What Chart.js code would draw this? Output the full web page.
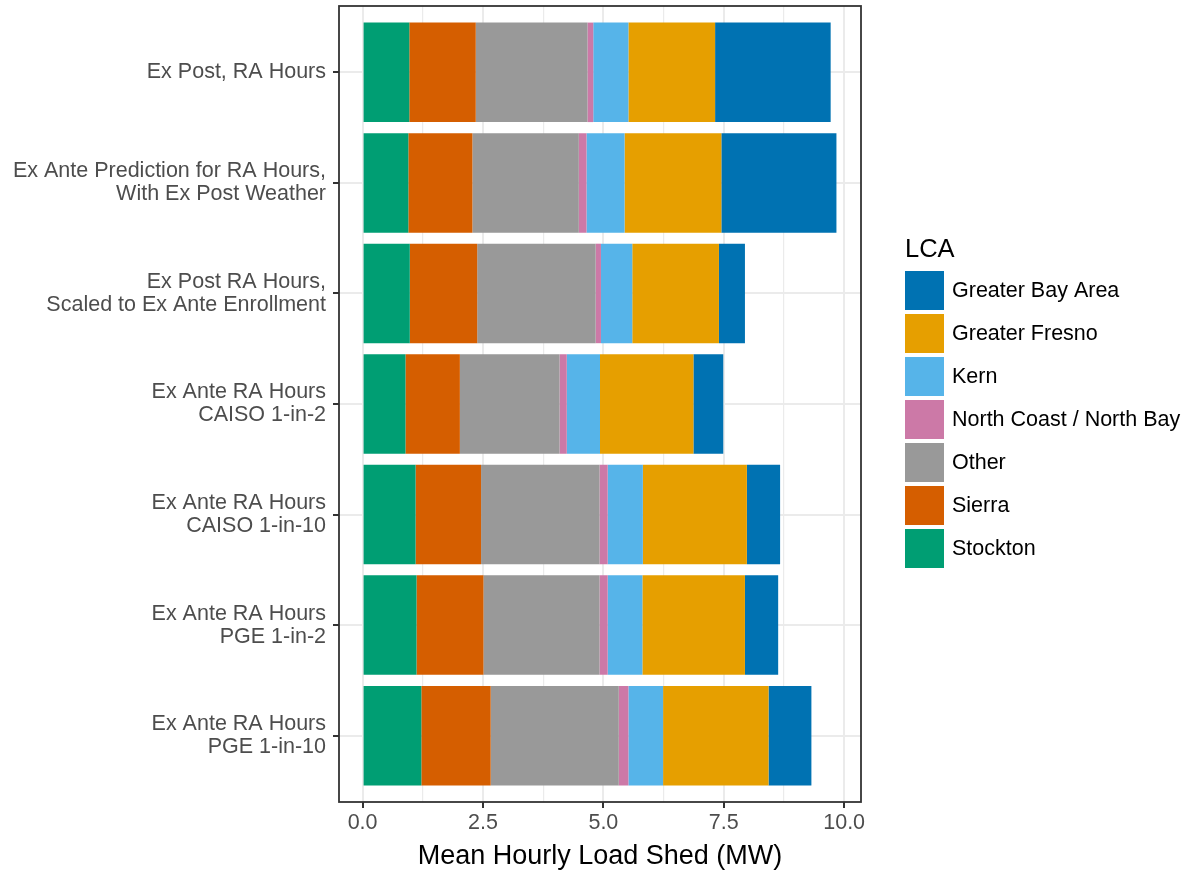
<!DOCTYPE html>
<html><head><meta charset="utf-8">
<script src="https://cdn.jsdelivr.net/npm/chart.js@4/dist/chart.umd.min.js"></script>
<style>html,body{margin:0;padding:0;background:#fff}canvas{display:block}</style>
</head><body>
<canvas id="c" width="1190" height="870"></canvas>
<script>
const categories = [
  'Ex Post, RA Hours',
  ['Ex Ante Prediction for RA Hours,', 'With Ex Post Weather'],
  ['Ex Post RA Hours,', 'Scaled to Ex Ante Enrollment'],
  ['Ex Ante RA Hours', 'CAISO 1-in-2'],
  ['Ex Ante RA Hours', 'CAISO 1-in-10'],
  ['Ex Ante RA Hours', 'PGE 1-in-2'],
  ['Ex Ante RA Hours', 'PGE 1-in-10']
];
const seriesNames = ['Stockton', 'Sierra', 'Other', 'North Coast / North Bay', 'Kern', 'Greater Fresno', 'Greater Bay Area'];
const stockton = [0.97, 0.95, 0.98, 0.89, 1.10, 1.12, 1.22];
const sierra   = [1.38, 1.33, 1.40, 1.13, 1.36, 1.39, 1.44];
const other    = [2.32, 2.21, 2.46, 2.07, 2.46, 2.41, 2.66];
const ncnb     = [0.12, 0.16, 0.11, 0.15, 0.17, 0.17, 0.20];
const kern     = [0.73, 0.79, 0.65, 0.69, 0.73, 0.72, 0.72];
const fresno   = [1.80, 2.01, 1.80, 1.94, 2.16, 2.13, 2.19];
const gba      = [2.40, 2.39, 0.54, 0.62, 0.69, 0.69, 0.89];
const seriesValues = [stockton, sierra, other, ncnb, kern, fresno, gba];
const seriesColors = ['#009E73', '#D55E00', '#999999', '#CC79A7', '#56B4E9', '#E69F00', '#0072B2'];
const xTickValues = [0, 2.5, 5, 7.5, 10];
const xTickLabels = ['0.0', '2.5', '5.0', '7.5', '10.0'];
const xMinorValues = [1.25, 3.75, 6.25, 8.75];
const xTitle = 'Mean Hourly Load Shed (MW)';
const legendTitle = 'LCA';

const FAM = '"Liberation Sans", Arial, Helvetica, sans-serif';

const datasets = seriesNames.map((name, s) => ({
  label: name,
  data: seriesValues[s].map((v, i) => ({ x: v, y: i + 1 })),
  backgroundColor: seriesColors[s],
  borderWidth: 0,
  stack: 'all',
  categoryPercentage: 1,
  barPercentage: 0.9
}));

const panelPlugin = {
  id: 'panelBorder',
  afterDatasetsDraw(chart) {
    const { ctx, chartArea: a } = chart;
    ctx.save();
    ctx.strokeStyle = '#333333';
    ctx.lineWidth = 1.8;
    ctx.strokeRect(a.left, a.top, a.right - a.left, a.bottom - a.top);
    ctx.restore();
  }
};

const legendPlugin = {
  id: 'lcaLegend',
  afterDraw(chart) {
    const { ctx, chartArea: a } = chart;
    const x0 = a.right + 44;
    const keySize = 39, step = 43, top = 271;
    ctx.save();
    ctx.textAlign = 'left';
    ctx.textBaseline = 'middle';
    ctx.fillStyle = '#000';
    ctx.font = '25.5px ' + FAM;
    ctx.fillText(legendTitle, x0, 250);
    const items = chart.data.datasets.slice().reverse();
    items.forEach((ds, i) => {
      const y = top + i * step;
      ctx.fillStyle = ds.backgroundColor;
      ctx.fillRect(x0, y, keySize, keySize);
      ctx.fillStyle = '#000';
      ctx.font = '21.5px ' + FAM;
      ctx.fillText(ds.label, x0 + keySize + 8, y + keySize / 2 + 1);
    });
    ctx.restore();
  }
};

new Chart(document.getElementById('c'), {
  type: 'bar',
  data: { datasets },
  plugins: [panelPlugin, legendPlugin],
  options: {
    indexAxis: 'y',
    responsive: false,
    animation: false,
    events: [],
    layout: { padding: { top: 6, left: 0, right: 329, bottom: 0 } },
    plugins: { legend: { display: false }, tooltip: { enabled: false } },
    scales: {
      x: {
        type: 'linear',
        min: -0.49,
        max: 10.35,
        stacked: true,
        afterBuildTicks: s => {
          s.ticks = xTickValues.concat(xMinorValues).sort((p, q) => p - q).map(v => ({ value: v }));
        },
        afterFit: s => { s.height = 68; s.paddingLeft = 0; s.paddingRight = 0; },
        ticks: {
          autoSkip: false,
          maxRotation: 0,
          color: '#4D4D4D',
          font: { size: 21.5, family: FAM, lineHeight: 1.2 },
          padding: 2,
          callback: v => { const k = xTickValues.indexOf(v); return k >= 0 ? xTickLabels[k] : ''; }
        },
        grid: {
          color: '#EBEBEB',
          lineWidth: c => (c.tick && xMinorValues.includes(c.tick.value)) ? 1.2 : 2,
          tickLength: 6,
          tickWidth: 2,
          tickColor: c => (c.tick && xMinorValues.includes(c.tick.value)) ? 'rgba(0,0,0,0)' : '#333333'
        },
        border: { display: false },
        title: {
          display: true,
          text: xTitle,
          color: '#000000',
          font: { size: 27, family: FAM, lineHeight: 1 },
          padding: { top: 0, bottom: 0 }
        }
      },
      y: {
        type: 'linear',
        reverse: true,
        min: 0.4,
        max: 7.6,
        stacked: true,
        offset: false,
        afterBuildTicks: s => { s.ticks = categories.map((c, i) => ({ value: i + 1 })); },
        afterFit: s => { s.width = 339; s.paddingTop = 0; s.paddingBottom = 0; },
        ticks: {
          autoSkip: false,
          color: '#4D4D4D',
          font: { size: 21.5, family: FAM, lineHeight: 1.07 },
          padding: 7,
          callback: (v, i) => categories[i]
        },
        grid: {
          color: '#EBEBEB',
          lineWidth: 2,
          offset: false,
          tickLength: 6,
          tickWidth: 2,
          tickColor: '#333333'
        },
        border: { display: false }
      }
    }
  }
});
</script>
</body></html>
